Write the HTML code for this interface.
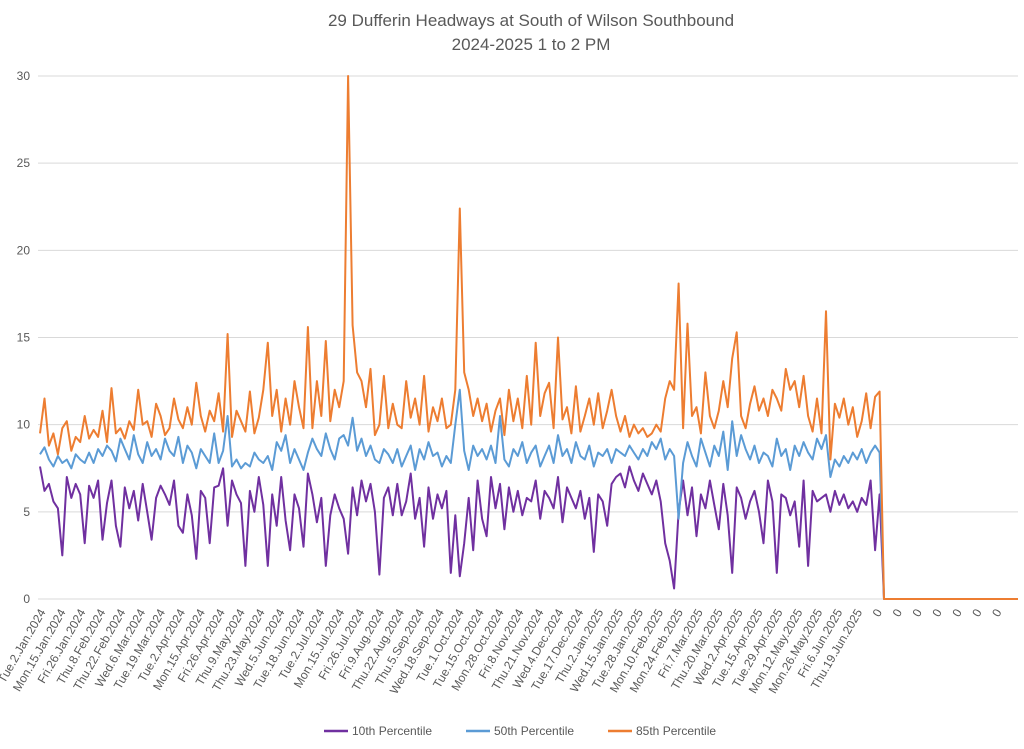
<!DOCTYPE html>
<html><head><meta charset="utf-8">
<style>
html,body{margin:0;padding:0;background:#fff;}
svg{display:block;font-family:"Liberation Sans",sans-serif;}
</style></head>
<body>
<svg id="chart" width="1024" height="749" viewBox="0 0 1024 749">
<text x="531" y="26" text-anchor="middle" font-size="17" fill="#595959">29 Dufferin Headways at South of Wilson Southbound</text>
<text x="531" y="50" text-anchor="middle" font-size="17" fill="#595959">2024-2025 1 to 2 PM</text>
<g id="grid"></g><g id="ylab"></g><g id="xlab"></g><g id="lines"></g>
<g>
<line x1="324" y1="731" x2="348" y2="731" stroke="#7030a0" stroke-width="2.5"/>
<text x="352" y="735" font-size="12" fill="#595959">10th Percentile</text>
<line x1="466" y1="731" x2="490" y2="731" stroke="#5b9bd5" stroke-width="2.5"/>
<text x="494" y="735" font-size="12" fill="#595959">50th Percentile</text>
<line x1="608" y1="731" x2="632" y2="731" stroke="#ed7d31" stroke-width="2.5"/>
<text x="636" y="735" font-size="12" fill="#595959">85th Percentile</text>
</g>
</svg>
<script>
const xLabels=["Tue.2.Jan.2024","Mon.15.Jan.2024","Fri.26.Jan.2024","Thu.8.Feb.2024","Thu.22.Feb.2024","Wed.6.Mar.2024","Tue.19.Mar.2024","Tue.2.Apr.2024","Mon.15.Apr.2024","Fri.26.Apr.2024","Thu.9.May.2024","Thu.23.May.2024","Wed.5.Jun.2024","Tue.18.Jun.2024","Tue.2.Jul.2024","Mon.15.Jul.2024","Fri.26.Jul.2024","Fri.9.Aug.2024","Thu.22.Aug.2024","Thu.5.Sep.2024","Wed.18.Sep.2024","Tue.1.Oct.2024","Tue.15.Oct.2024","Mon.28.Oct.2024","Fri.8.Nov.2024","Thu.21.Nov.2024","Wed.4.Dec.2024","Tue.17.Dec.2024","Thu.2.Jan.2025","Wed.15.Jan.2025","Tue.28.Jan.2025","Mon.10.Feb.2025","Mon.24.Feb.2025","Fri.7.Mar.2025","Thu.20.Mar.2025","Wed.2.Apr.2025","Tue.15.Apr.2025","Tue.29.Apr.2025","Mon.12.May.2025","Mon.26.May.2025","Fri.6.Jun.2025","Thu.19.Jun.2025","0","0","0","0","0","0","0"];
const yTicks=[0,5,10,15,20,25,30];
const p85=[9.5,11.5,8.8,9.5,8.3,9.8,10.2,8.5,9.3,9.0,10.5,9.2,9.7,9.3,10.8,9.0,12.1,9.5,9.8,9.2,10.2,9.7,12.0,10.0,10.2,9.3,11.2,10.5,9.4,9.8,11.5,10.3,9.8,11.0,10.0,12.4,10.5,9.6,10.8,10.2,11.8,9.6,15.2,9.3,10.8,10.2,9.6,11.9,9.5,10.4,12.0,14.7,10.5,12.0,9.6,11.5,10.0,12.5,11.0,9.8,15.6,9.8,12.5,10.5,14.8,10.2,12.0,11.0,12.5,30.0,15.7,13.0,12.5,11.0,13.2,9.4,10.0,12.8,9.8,11.2,10.0,9.8,12.5,10.4,11.5,10.0,12.8,9.6,11.0,10.2,11.5,9.8,10.0,12.0,22.4,13.0,12.0,10.5,11.5,10.2,11.2,9.6,10.8,11.5,9.4,12.0,10.2,11.5,9.8,12.8,10.0,14.7,10.5,11.8,12.4,9.8,15.0,10.3,11.0,9.5,12.2,9.6,10.5,11.5,10.0,11.8,9.8,10.8,12.0,10.5,9.6,10.5,9.3,10.0,9.5,9.8,9.3,9.5,10.0,9.6,11.5,12.5,12.0,18.1,9.8,15.8,10.5,11.0,9.5,13.0,10.5,9.8,10.8,12.5,11.0,13.8,15.3,10.5,9.8,11.2,12.2,10.8,11.5,10.5,12.0,11.5,10.8,13.2,12.0,12.5,11.0,12.8,10.5,9.6,11.5,9.5,16.5,8.0,11.2,10.4,11.5,10.0,11.0,9.3,10.2,11.8,9.8,11.6,11.9,0,0,0,0,0,0,0,0,0,0,0,0,0,0,0,0,0,0,0,0,0,0,0,0,0,0,0,0,0,0,0];
const p50=[8.3,8.7,8.0,7.6,8.2,7.8,8.0,7.5,8.3,8.0,7.8,8.4,7.8,8.6,8.2,8.8,8.5,7.9,9.2,8.6,8.0,9.4,8.3,7.8,9.0,8.2,8.6,8.0,9.2,8.5,8.2,9.3,7.8,8.8,8.4,7.5,8.6,8.2,7.8,9.5,7.8,8.5,10.5,7.6,8.0,7.5,7.8,7.6,8.4,8.0,7.8,8.2,7.4,9.0,8.5,9.4,7.8,8.6,8.0,7.4,8.4,9.2,8.6,8.2,9.5,8.6,8.0,9.2,9.4,8.8,10.4,8.5,9.2,8.2,8.8,8.0,7.8,8.6,8.3,7.8,8.6,7.6,8.2,8.8,7.4,8.6,8.0,9.0,8.2,8.4,7.6,8.2,7.8,10.0,12.0,8.5,7.4,8.8,8.2,8.6,8.0,8.8,7.8,10.5,8.0,7.6,8.6,8.2,9.0,7.8,8.4,8.8,7.6,8.2,8.8,7.8,9.4,8.2,8.6,7.8,9.0,8.2,8.0,8.8,7.6,8.4,8.2,8.6,7.8,8.6,8.4,8.2,8.8,8.4,8.0,8.6,8.2,9.0,8.6,9.2,8.0,8.6,8.2,4.6,7.8,9.0,8.2,7.6,9.2,8.4,7.6,8.8,8.2,9.6,7.4,10.2,8.2,9.4,8.6,8.0,8.8,7.8,8.4,8.2,7.6,9.2,8.2,8.6,7.4,8.8,8.2,9.0,8.4,8.0,9.2,8.6,9.4,7.0,8.0,7.6,8.2,7.8,8.4,8.0,8.6,7.8,8.4,8.8,8.4,0,0,0,0,0,0,0,0,0,0,0,0,0,0,0,0,0,0,0,0,0,0,0,0,0,0,0,0,0,0,0];
const p10=[7.6,6.2,6.6,5.6,5.2,2.5,7.0,5.8,6.6,6.0,3.2,6.5,5.8,6.8,3.4,5.5,6.8,4.2,3.0,6.4,5.2,6.2,4.5,6.6,5.0,3.4,5.8,6.5,6.0,5.4,6.8,4.2,3.8,6.0,4.8,2.3,6.2,5.8,3.2,6.4,6.5,7.5,4.2,6.8,6.0,5.5,1.9,6.2,5.0,7.0,5.4,1.9,6.0,4.2,7.0,4.5,2.8,6.0,5.2,3.0,7.2,6.0,4.4,5.8,1.9,4.8,6.0,5.2,4.6,2.6,6.4,4.8,6.8,5.6,6.6,5.0,1.4,5.8,6.4,4.8,6.6,4.8,5.6,7.2,4.6,5.8,3.0,6.4,4.6,6.0,5.2,6.2,1.5,4.8,1.3,3.2,5.8,2.8,6.8,4.6,3.6,7.0,5.2,6.6,4.0,6.4,5.0,6.2,4.8,5.8,5.6,6.8,4.6,6.2,5.8,5.2,7.0,4.4,6.4,5.8,5.2,6.2,4.6,5.8,2.7,6.0,5.6,4.2,6.6,7.0,7.2,6.4,7.6,6.8,6.2,7.2,6.6,6.0,6.8,5.6,3.2,2.2,0.6,5.0,6.8,4.8,6.4,3.6,6.0,5.2,6.8,5.4,4.0,6.6,4.8,1.5,6.4,5.8,4.6,5.6,6.2,5.0,3.2,6.8,5.6,1.5,6.0,5.8,4.8,5.6,3.0,6.8,1.9,6.2,5.6,5.8,6.0,5.0,6.2,5.4,6.0,5.2,5.6,5.0,5.8,5.4,6.8,2.8,6.0,0,0,0,0,0,0,0,0,0,0,0,0,0,0,0,0,0,0,0,0,0,0,0,0,0,0,0,0,0,0,0];

const NS="http://www.w3.org/2000/svg";
const PL=40,PR=1018,PT=76,PB=599,YMAX=30;
const N=p85.length;
function xs(i){return PL+i*(PR-PL)/(N-1);}
function ys(v){return PB-(v/YMAX)*(PB-PT);}
function mk(tag,attrs,parent){const e=document.createElementNS(NS,tag);for(const k in attrs)e.setAttribute(k,attrs[k]);parent.appendChild(e);return e;}
const grid=document.getElementById('grid'),ylab=document.getElementById('ylab'),xlab=document.getElementById('xlab'),lines=document.getElementById('lines');
yTicks.forEach(t=>{
  const g=mk('line',{x1:38,x2:1018,y1:ys(t),y2:ys(t),stroke:'#d9d9d9','stroke-width':1},grid);
  
  
  const l=mk('text',{x:30,y:ys(t)+4,'text-anchor':'end','font-size':12,fill:'#595959'},ylab);
  l.textContent=t;
  
  
});
const LX0=46,LX1=1002;
xLabels.forEach((s,k)=>{
  const x=LX0+k*(LX1-LX0)/(xLabels.length-1);
  const t=mk('text',{x:x,y:612,'text-anchor':'end','font-size':12,fill:'#595959',transform:'rotate(-60 '+x+' 612)'},xlab);
  t.textContent=s;
  
  
});
function series(arr,color,name){
  const d=arr.map((v,i)=>(i?'L':'M')+xs(i).toFixed(1)+' '+ys(v).toFixed(1)).join(' ');
  const p=mk('path',{d:d,fill:'none',stroke:color,'stroke-width':2,'stroke-linejoin':'round'},lines);
  
  
}
series(p10,'#7030a0','line-10th-percentile');
series(p50,'#5b9bd5','line-50th-percentile');
series(p85,'#ed7d31','line-85th-percentile');
</script>
</body></html>
